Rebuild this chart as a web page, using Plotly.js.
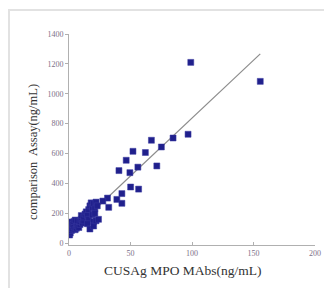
<!DOCTYPE html>
<html>
<head>
<meta charset="utf-8">
<script src="https://cdn.plot.ly/plotly-3.0.1.min.js"></script>
<style>
html,body{margin:0;padding:0;background:#fff;}
#wrap{position:relative;width:324px;height:288px;overflow:hidden;}
#frame{position:absolute;left:8px;top:9px;width:330px;height:300px;border-top:2px solid #e2e2e2;border-left:2px solid #e2e2e2;box-sizing:border-box;}
#chart{position:absolute;left:0;top:0;width:324px;height:288px;}
</style>
</head>
<body>
<div id="wrap"><div id="frame"></div><div id="chart"></div></div>
<script>
// CUSAg MPO MAbs (ng/mL) vs comparison assay (ng/mL)
const mabsX = [
  99, 155.5, 96.8, 84.6, 67, 75.1, 52, 62.1, 46.5, 71.4, 56, 40.6, 49.5, 50.1, 56.6, 43, 38.9, 31.3, 43, 32.3, 27.5,
  0.5, 1, 2, 1.5, 3, 0.8, 1.5, 3, 4, 5, 6, 4, 6, 7, 8, 9, 5, 7, 9, 10, 11, 12, 10, 12, 13, 14, 15, 16, 17, 18, 19, 20, 21, 22,
  16, 19, 21, 20, 15, 23, 17, 20, 22, 24
];
const assayY = [
  1210, 1083, 729, 704, 689, 644, 615, 607, 555, 517, 509, 486, 472, 376, 362, 332, 293, 302, 267, 240, 282,
  55, 68, 85, 100, 95, 130, 142, 125, 110, 90, 100, 145, 130, 115, 105, 125, 155, 150, 145, 160, 135, 150, 185, 175, 195, 210, 185, 225, 250, 270, 240, 265, 230, 275,
  160, 190, 200, 145, 130, 250, 95, 115, 150, 160
];
// trend line end points
const trendX = [0.5, 155.5];
const trendY = [67, 1267];

const xTicks = [0, 50, 100, 150, 200];
const yTicks = [0, 200, 400, 600, 800, 1000, 1200, 1400];
const xTitle = 'CUSAg MPO MAbs(ng/mL)';
const yTitle = 'comparison  Assay(ng/mL)';

const traces = [
  {x: trendX, y: trendY, mode: 'lines', type: 'scatter',
   line: {color: '#8c8c8c', width: 1.2}, hoverinfo: 'skip', showlegend: false},
  {x: mabsX, y: assayY, mode: 'markers', type: 'scatter',
   marker: {symbol: 'square', size: 6, color: '#20208c', line: {color: '#3a3aa0', width: 0.5}},
   showlegend: false}
];

const serif = '"Liberation Serif", "DejaVu Serif", serif';
const tickFont = {family: serif, size: 8, color: '#7d7088'};

const layout = {
  width: 324, height: 288,
  margin: {l: 69, r: 9, t: 34, b: 43, pad: 0},
  paper_bgcolor: 'rgba(0,0,0,0)', plot_bgcolor: 'rgba(0,0,0,0)',
  showlegend: false,
  xaxis: {
    range: [0, 200], tickvals: xTicks, ticktext: xTicks.map(String),
    showgrid: false, zeroline: false, showline: true, linecolor: '#b0b0b0', linewidth: 1,
    ticks: 'inside', ticklen: 3, tickcolor: '#b0b0b0', tickfont: tickFont
  },
  yaxis: {
    range: [-12, 1400], tickvals: yTicks, ticktext: yTicks.map(String),
    showgrid: false, zeroline: false, showline: true, linecolor: '#b0b0b0', linewidth: 1,
    ticks: 'outside', ticklen: 3, tickcolor: '#b0b0b0', tickfont: tickFont
  },
  annotations: [
    {text: xTitle, xref: 'paper', yref: 'paper', x: 0.4634, y: -0.123,
     xanchor: 'center', yanchor: 'middle', showarrow: false,
     font: {family: serif, size: 13.5, color: '#333'}},
    {text: yTitle, xref: 'paper', yref: 'paper', x: -0.1463, y: 0.4408, textangle: -90,
     xanchor: 'center', yanchor: 'middle', showarrow: false,
     font: {family: serif, size: 12.5, color: '#333'}}
  ]
};

Plotly.newPlot('chart', traces, layout, {staticPlot: true, displayModeBar: false});
</script>
</body>
</html>
